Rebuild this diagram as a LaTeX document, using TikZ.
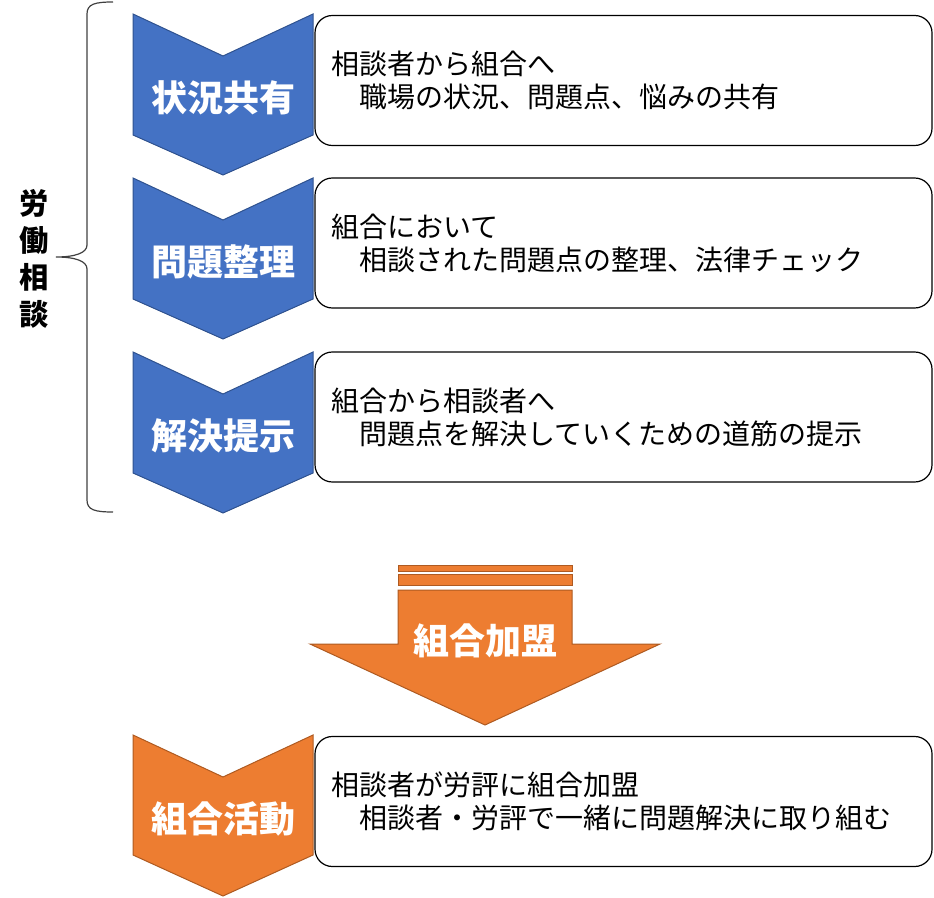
\documentclass[tikz,border=0pt]{standalone}
\usepackage{fontspec}
\setmainfont{Noto Sans CJK JP}
\definecolor{stepblue}{HTML}{4472C4}
\definecolor{stepblueline}{HTML}{2F528F}
\definecolor{steporange}{HTML}{ED7D31}
\definecolor{steporangeline}{HTML}{AE5A21}

\begin{document}
\begin{tikzpicture}[x=0.75pt,
					y=-0.75pt,
					blue step/.style={fill=stepblue,draw=stepblueline,line width=0.75pt},
					orange step/.style={fill=steporange,draw=steporangeline,line width=0.75pt},
					step label/.style={text=white,font=\fontsize{27}{30}\selectfont\bfseries,inner sep=0pt},
					info box/.style={draw,fill=white,rounded corners=13pt,line width=0.9pt,
						text width=438.75pt,inner xsep=12pt,minimum height=97.5pt,align=left,
						font=\fontsize{21}{24.75}\selectfont},
					side label/.style={align=center,font=\fontsize{22}{27.75}\selectfont\bfseries,inner sep=0pt}]

  \useasboundingbox (0,0) rectangle (934,898);

  % brace and its label
  \draw[black!75,line width=0.9pt] (113,2) .. controls (95,2) and (87,4) .. (87,14) -- (87,245)
    .. controls (87,253) and (75,257) .. (56,257) .. controls (75,257) and (87,261) .. (87,269)
    -- (87,500) .. controls (87,510) and (95,512) .. (113,512);
  \node[side label] (soudan) at (34,259) {労\\働\\相\\談};

  % consultation steps
  \foreach \t/\name/\txt in {14/kyouyu/状況共有, 178/seiri/問題整理, 352/teiji/解決提示} {
    \draw[blue step] (133,\t) -- (223,\t+42) -- (313,\t) -- (313,\t+121) -- (223,\t+161) -- (133,\t+121) -- cycle;
    \node[step label] (\name) at (223,\t+84) {\txt};
  }

  \node[info box] (kyouyu box) at (623.5,80.5) {相談者から組合へ\\　職場の状況、問題点、悩みの共有};
  \node[info box] (seiri box) at (623.5,243) {組合において\\　相談された問題点の整理、法律チェック};
  \node[info box] (teiji box) at (623.5,417) {組合から相談者へ\\　問題点を解決していくための道筋の提示};

  % joining arrow
  \draw[orange step] (398,565) rectangle (572,571);
  \draw[orange step] (398,574) rectangle (572,585);
  \draw[orange step] (398,590) -- (572,590) -- (572,644) -- (660,644) -- (485,725) -- (310,644) -- (398,644) -- cycle;
  \node[step label] (kamei) at (485,641) {組合加盟};

  % union activity
  \draw[orange step] (133,735) -- (223,777) -- (313,735) -- (313,855) -- (223,896) -- (133,855) -- cycle;
  \node[step label] (katsudou) at (223,819) {組合活動};
  \node[info box] (katsudou box) at (623.5,801.5) {相談者が労評に組合加盟\\　相談者・労評で一緒に問題解決に取り組む};
\end{tikzpicture}
\end{document}
